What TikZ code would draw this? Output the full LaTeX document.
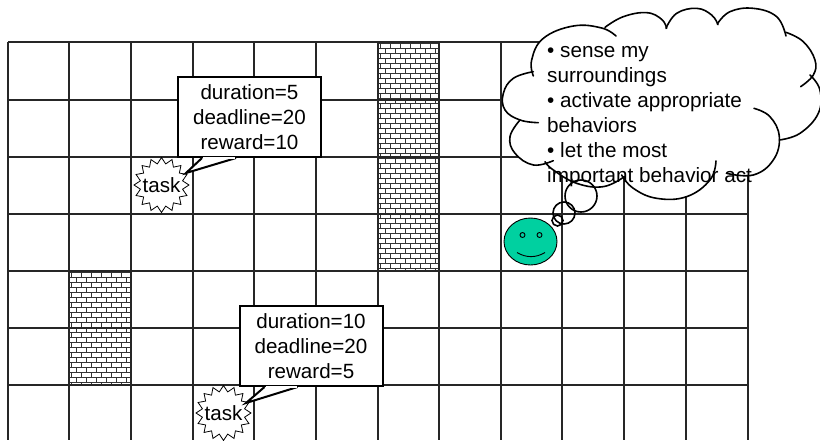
\documentclass[tikz,border=0pt]{standalone}
\usepackage{fontspec}
\setmainfont{Liberation Sans}
\usepackage{xcolor}
\usepackage{tikz}
\usetikzlibrary{shapes.geometric, positioning, calc}

\definecolor{faceteal}{RGB}{0,208,160}

% brick fill of one rectangle: x0, y0, x1, y1
\newcommand{\brickwall}[4]{
  \begin{scope}
    \clip (#1,#2) rectangle (#3,#4);
    \foreach \row in {0,...,50} {
      \pgfmathsetmacro{\rowy}{#2+1+5*\row}
      \draw[brickline] (#1,\rowy) -- (#3,\rowy);
      \pgfmathsetmacro{\rowshift}{#1+2+5*mod(\row,2)}
      \foreach \col in {0,...,7} {
        \draw[brickline] ({\rowshift+10*\col},\rowy) -- ++(0,5);
      }
    }
  \end{scope}
}

\begin{document}
\begin{tikzpicture}[
    x=1pt, y=-1pt,
    gridline/.style={line width=1.2pt, black!85},
    brickline/.style={line width=0.95pt, black!80},
    infobox/.style={rectangle, draw, line width=2pt, fill=white, minimum width=143pt, minimum height=80pt, align=center, inner sep=0pt, font=\fontsize{20.6}{25}\selectfont},
    taskstar/.style={star, star points=16, star point ratio=1.28, draw, line width=0.8pt, fill=white, minimum size=55pt, inner sep=0pt},
    tasklabel/.style={inner sep=0pt, font=\fontsize{20.6}{25}\selectfont},
    tailline/.style={line width=2pt, fill=white, line join=miter},
    cloudline/.style={line width=1.6pt, line cap=round}
]
  \useasboundingbox (0,0) rectangle (820,440);

  % Bricks
  \brickwall{378}{42}{439}{271}
  \brickwall{69}{271}{131}{385}

  % Grid
  \foreach \gx in {8,69,131,193,254,316,378,439,501,562,624,686,748} {
    \draw[gridline] (\gx,42) -- (\gx,440);
  }
  \foreach \gy in {42,100,157,214,271,328,385} {
    \draw[gridline] (8,\gy) -- (748,\gy);
  }

  % Tasks
  \node[taskstar] (starA) at (161.5,185) {};
  \node[tasklabel] (taskA) at (starA) {task};
  \node[taskstar] (starB) at (223.5,413) {};
  \node[tasklabel] (taskB) at (starB) {task};

  % Info boxes
  \node[infobox] (infoA) at (249.5,117) {duration=5\\deadline=20\\reward=10};
  \node[infobox] (infoB) at (311,346) {duration=10\\deadline=20\\reward=5};
  \coordinate (tipA) at (186,173);
  \coordinate (tipB) at (246,403);
  \draw[tailline] ($(infoA.south west)+(25,0)$) -- (tipA) -- ($(infoA.south west)+(59,0)$);
  \draw[white, line width=2.6pt] ($(infoA.south west)+(26,0)$) -- ($(infoA.south west)+(58,0)$);
  \draw[tailline] ($(infoB.south west)+(26,0)$) -- (tipB) -- ($(infoB.south west)+(59,0)$);
  \draw[white, line width=2.6pt] ($(infoB.south west)+(27,0)$) -- ($(infoB.south west)+(58,0)$);

  % Thought cloud
  \begin{scope}[shift={(490,0)}, x=0.3333pt, y=-0.3333pt]
    \fill[white] plot[smooth cycle, tension=0.6] coordinates {(125,180) (160,115) (250,78) (345,80) (400,50) (470,38) (530,75) (560,40) (620,25) (685,65) (720,35) (790,25) (860,50) (888,97) (940,125) (975,180) (965,225) (990,270) (985,340) (930,400) (868,420) (850,480) (790,525) (700,510) (660,560) (590,590) (500,595) (430,565) (395,525) (340,560) (260,550) (190,510) (165,487) (130,495) (75,460) (60,410) (90,360) (45,330) (40,280) (70,235) (128,215)};
    \draw[cloudline] plot[smooth, tension=0.7] coordinates {(130,228) (125,180) (160,115) (250,78) (335,84) (378,108)};
    \draw[cloudline] plot[smooth, tension=0.7] coordinates {(345,82) (400,50) (470,38) (515,58) (530,85)};
    \draw[cloudline] plot[smooth, tension=0.7] coordinates {(528,85) (560,40) (620,25) (665,45) (684,74)};
    \draw[cloudline] plot[smooth, tension=0.7] coordinates {(682,72) (720,35) (790,25) (860,50) (888,108)};
    \draw[cloudline] plot[smooth, tension=0.7] coordinates {(888,97) (940,125) (975,180) (970,225) (932,260)};
    \draw[cloudline] plot[smooth, tension=0.7] coordinates {(960,225) (990,270) (985,340) (930,400) (868,420)};
    \draw[cloudline] plot[smooth, tension=0.7] coordinates {(792,325) (840,350) (868,410) (850,480) (790,525) (710,520)};
    \draw[cloudline] plot[smooth, tension=0.7] coordinates {(678,483) (660,540) (590,590) (500,595) (430,565) (395,525)};
    \draw[cloudline] plot[smooth, tension=0.7] coordinates {(403,530) (340,560) (260,550) (190,510) (165,485)};
    \draw[cloudline] plot[smooth, tension=0.7] coordinates {(190,482) (130,495) (75,460) (60,410) (90,360)};
    \draw[cloudline] plot[smooth, tension=0.7] coordinates {(145,368) (90,360) (45,330) (40,280) (70,235) (130,215)};
  \end{scope}

  % Bubbles
  \node[circle, draw, cloudline, minimum size=32pt, inner sep=0pt] (bubbleA) at (581,196) {};
  \node[circle, draw, cloudline, minimum size=22pt, inner sep=0pt] (bubbleB) at (564,213) {};
  \node[circle, draw, cloudline, minimum size=11pt, inner sep=0pt] (bubbleC) at (557.5,220.5) {};

  % Robot face
  \node[ellipse, draw, line width=0.9pt, fill=faceteal, minimum width=53pt, minimum height=47pt] (face) at (530.5,241.5) {};
  \node[circle, draw, line width=0.9pt, fill=faceteal, minimum size=5pt, inner sep=0pt] (eyeL) at (522.5,235) {};
  \node[circle, draw, line width=0.9pt, fill=faceteal, minimum size=5pt, inner sep=0pt] (eyeR) at (539.5,235) {};
  \draw[line width=0.9pt] (517,252.5) .. controls (526,258) and (536,258) .. (545,252.5);

  % Thoughts
  \node[anchor=north west, align=left, inner sep=0pt, font=\fontsize{20.7}{25}\selectfont] (thought) at (547,46.5) {• sense my\\surroundings\\• activate appropriate\\behaviors\\• let the most\\important behavior act};
\end{tikzpicture}
\end{document}
